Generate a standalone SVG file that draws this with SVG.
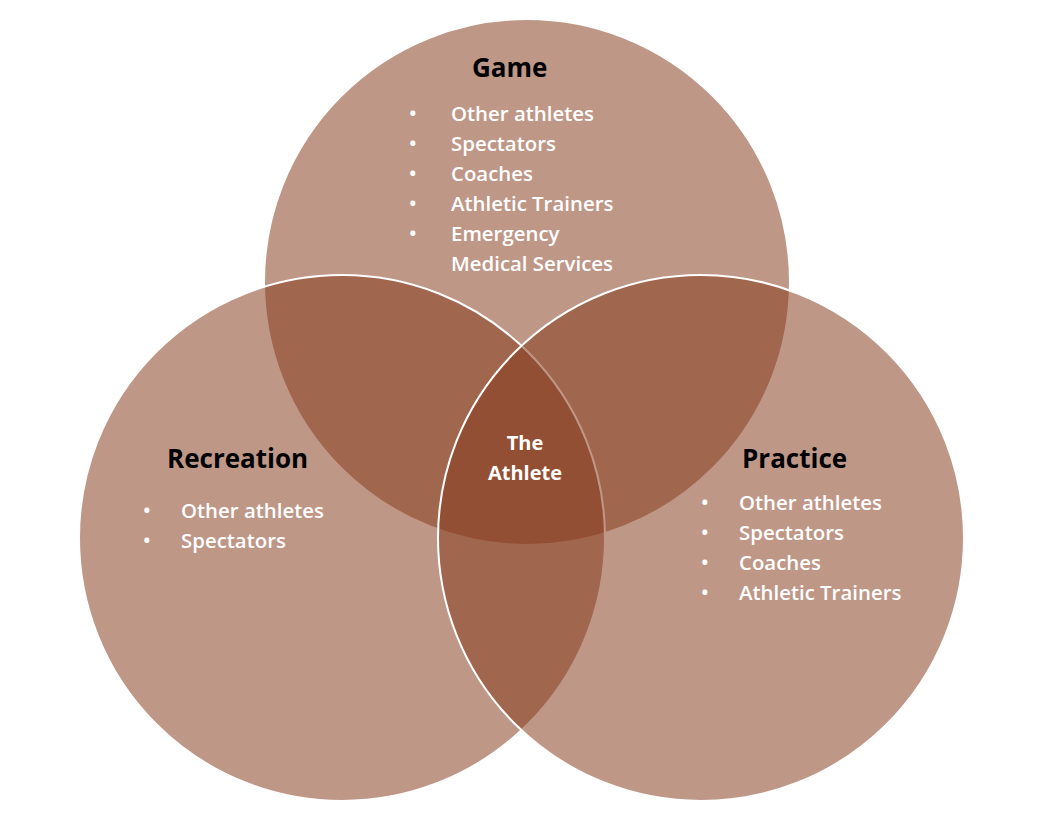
<svg xmlns="http://www.w3.org/2000/svg" width="1048" height="822" viewBox="0 0 1048 822">
<style>
.c{fill:#863b1c;fill-opacity:0.53;stroke:#ffffff;stroke-width:2}
.t{font-family:"Open Sans","Liberation Sans",sans-serif;font-weight:bold;font-size:26px;fill:#000}
.i{font-family:"Open Sans","Liberation Sans",sans-serif;font-size:20.4px;fill:#fff;font-weight:600}
.ctr{font-family:"Open Sans","Liberation Sans",sans-serif;font-weight:bold;font-size:20px;fill:#fff;text-anchor:middle}
</style>
<rect width="1048" height="822" fill="#fff"/>
<g id="game"><circle class="c" cx="527" cy="282" r="263"/></g>
<g id="recreation"><circle class="c" cx="342" cy="538" r="263"/></g>
<g id="practice"><circle class="c" cx="701" cy="538" r="263"/></g>
<g id="game-text">
<text class="t" x="472" y="77">Game</text>
<g class="i">
<text x="409" y="121">•</text><text x="451" y="121">Other athletes</text>
<text x="409" y="151">•</text><text x="451" y="151">Spectators</text>
<text x="409" y="181">•</text><text x="451" y="181">Coaches</text>
<text x="409" y="211">•</text><text x="451" y="211">Athletic Trainers</text>
<text x="409" y="241">•</text><text x="451" y="241">Emergency</text>
<text x="451" y="271">Medical Services</text>
</g>
</g>
<g id="recreation-text">
<text class="t" x="167" y="468">Recreation</text>
<g class="i">
<text x="143" y="518">•</text><text x="181" y="518">Other athletes</text>
<text x="143" y="548">•</text><text x="181" y="548">Spectators</text>
</g>
</g>
<g id="practice-text">
<text class="t" x="742" y="468">Practice</text>
<g class="i">
<text x="701" y="510">•</text><text x="739" y="510">Other athletes</text>
<text x="701" y="540">•</text><text x="739" y="540">Spectators</text>
<text x="701" y="570">•</text><text x="739" y="570">Coaches</text>
<text x="701" y="600">•</text><text x="739" y="600">Athletic Trainers</text>
</g>
</g>
<g id="athlete">
<text class="ctr" x="525" y="450">The</text>
<text class="ctr" x="525" y="480">Athlete</text>
</g>
<g id="connectors"/>
</svg>
